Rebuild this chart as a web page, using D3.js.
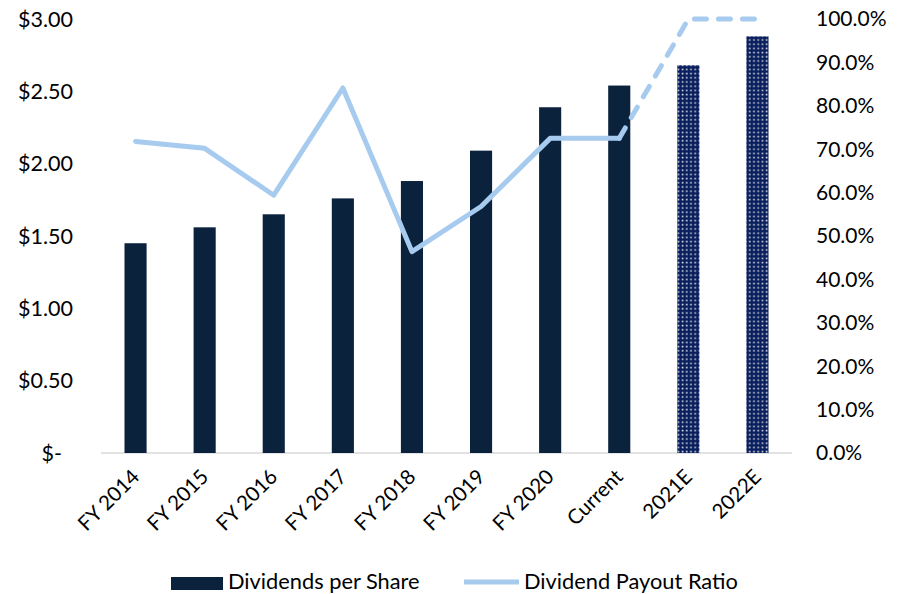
<!DOCTYPE html>
<html>
<head>
<meta charset="utf-8">
<script src="https://cdn.jsdelivr.net/npm/d3@7"></script>
<style>
  body { margin: 0; background: #fff; }
  svg { display: block; font-family: Lato, "Open Sans", sans-serif; }
</style>
</head>
<body>
<svg id="chart" width="897" height="594"></svg>
<script>
// data
const categories = ["FY 2014", "FY 2015", "FY 2016", "FY 2017", "FY 2018", "FY 2019", "FY 2020", "Current", "2021E", "2022E"]
const dividends = [1.45, 1.56, 1.65, 1.76, 1.88, 2.09, 2.39, 2.54, 2.68, 2.88]
const payout = [71.8, 70.2, 59.4, 84.1, 46.4, 56.8, 72.5, 72.5, 100, 100]
const estimated = [false, false, false, false, false, false, false, false, true, true]
const leftTicks = [0, 0.5, 1, 1.5, 2, 2.5, 3]
const rightTicks = [0, 10, 20, 30, 40, 50, 60, 70, 80, 90, 100]

const barColor = "#0b223d"
const lineColor = "#a7cbef"

const svg = d3.select("#chart")

const x = d3.scaleBand()
    .domain(categories)
    .range([101, 792])
    .padding(0)

const yL = d3.scaleLinear().domain([0, 3]).range([453, 19])
const yR = d3.scaleLinear().domain([0, 100]).range([453, 19])

// dotted fill for the estimate bars
const defs = svg.append("defs")
const pat = defs.append("pattern")
    .attr("id", "dots")
    .attr("patternUnits", "userSpaceOnUse")
    .attr("width", 4.2)
    .attr("height", 4.2)
pat.append("rect").attr("width", 4.2).attr("height", 4.2).attr("fill", "#0a1f5e")
pat.append("rect").attr("x", 1.4).attr("y", 1.4).attr("width", 1.6).attr("height", 1.6).attr("fill", "#d4d8e0")

// baseline
svg.append("line")
    .attr("x1", x.range()[0]).attr("x2", x.range()[1])
    .attr("y1", yL(0)).attr("y2", yL(0))
    .style("stroke", "#d9d9d9")
    .style("stroke-width", 1.5)

const bw = x.bandwidth() * 0.32

svg.append("g")
    .selectAll("rect")
    .data(categories)
    .enter()
    .append("rect")
    .attr("x", d => x(d) + x.bandwidth() / 2 - bw / 2)
    .attr("width", bw)
    .attr("y", (d, i) => yL(dividends[i]))
    .attr("height", (d, i) => yL(0) - yL(dividends[i]))
    .style("fill", (d, i) => estimated[i] ? "url(#dots)" : barColor)

// payout line: solid for actuals, dashed into the estimates
const pts = categories.map((c, i) => [x(c) + x.bandwidth() / 2, yR(payout[i])])
const line = d3.line()
const firstEst = estimated.indexOf(true)

svg.append("path")
    .attr("d", line(pts.slice(0, firstEst)))
    .style("fill", "none")
    .style("stroke", lineColor)
    .style("stroke-width", 5)
    .style("stroke-linejoin", "round")
    .style("stroke-linecap", "round")

svg.append("path")
    .attr("d", line(pts.slice(firstEst - 1)))
    .style("fill", "none")
    .style("stroke", lineColor)
    .style("stroke-width", 5)
    .style("stroke-dasharray", "12,12")
    .style("stroke-linejoin", "round")
    .style("stroke-linecap", "round")

// left axis labels
svg.append("g")
    .selectAll("text")
    .data(leftTicks)
    .enter()
    .append("text")
    .attr("x", d => d === 0 ? 62 : 73)
    .attr("y", d => yL(d))
    .attr("dy", "0.35em")
    .style("text-anchor", "end")
    .style("font-size", "21.5px")
    .style("fill", "#000")
    .text(d => d === 0 ? "$-" : d3.format("$.2f")(d))

// right axis labels
svg.append("g")
    .selectAll("text")
    .data(rightTicks)
    .enter()
    .append("text")
    .attr("x", 816)
    .attr("y", d => yR(d))
    .attr("dy", "0.35em")
    .style("text-anchor", "start")
    .style("font-size", "21px")
    .style("fill", "#000")
    .text(d => d.toFixed(1) + "%")

// category labels, rotated
svg.append("g")
    .selectAll("text")
    .data(categories)
    .enter()
    .append("text")
    .attr("transform", d => "translate(" + (x(d) + x.bandwidth() / 2 + 5) + ",478) rotate(-45)")
    .style("text-anchor", "end")
    .style("font-size", "20.5px")
    .style("fill", "#000")
    .text(d => d)

// legend
const lg = svg.append("g")
lg.append("rect")
    .attr("x", 171).attr("y", 577)
    .attr("width", 52).attr("height", 13)
    .style("fill", barColor)
lg.append("text")
    .attr("x", 228).attr("y", 589)
    .style("font-size", "21.8px")
    .text("Dividends per Share")
lg.append("line")
    .attr("x1", 464).attr("x2", 519)
    .attr("y1", 582).attr("y2", 582)
    .style("stroke", lineColor)
    .style("stroke-width", 5)
lg.append("text")
    .attr("x", 524).attr("y", 589)
    .style("font-size", "21.8px")
    .text("Dividend Payout Ratio")
</script>
</body>
</html>
